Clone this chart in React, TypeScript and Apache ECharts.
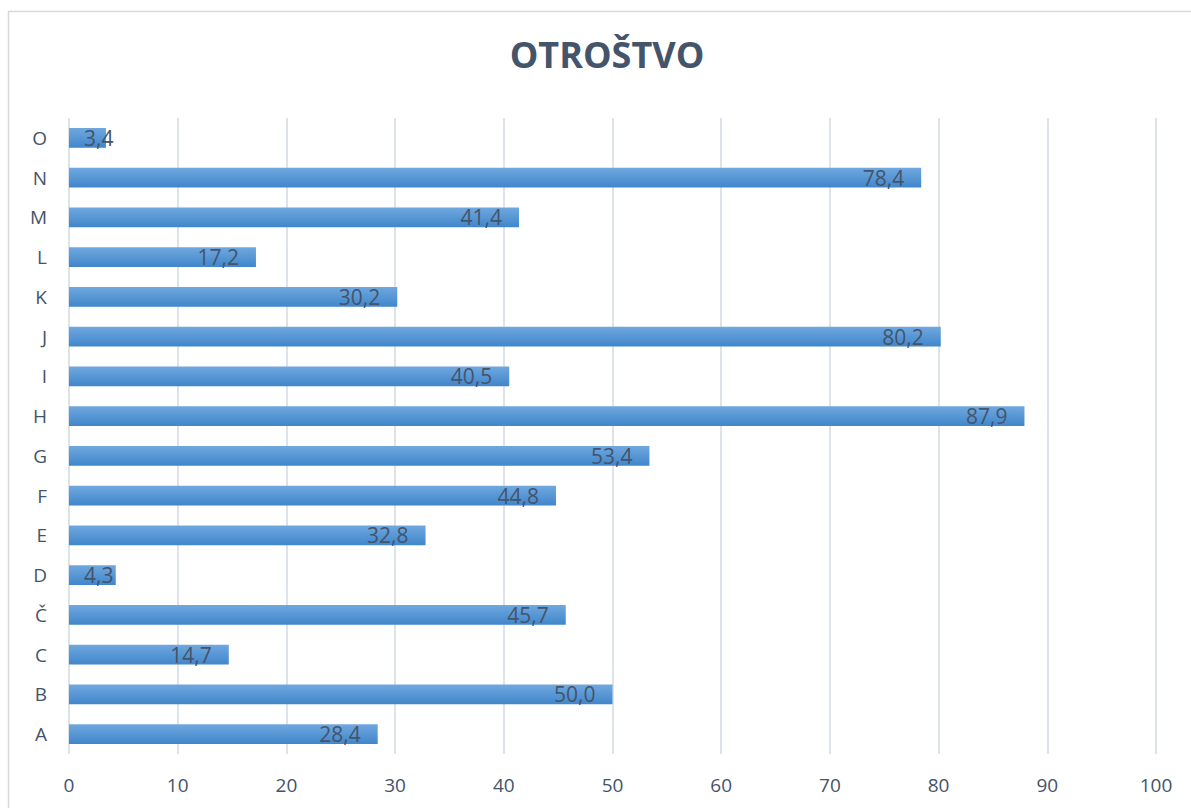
import React, { useEffect, useRef } from "react";
import * as echarts from "echarts";

const categories = ["A", "B", "C", "Č", "D", "E", "F", "G", "H", "I", "J", "K", "L", "M", "N", "O"];
const values = [28.4, 50.0, 14.7, 45.7, 4.3, 32.8, 44.8, 53.4, 87.9, 40.5, 80.2, 30.2, 17.2, 41.4, 78.4, 3.4];
const xTicks = [0, 10, 20, 30, 40, 50, 60, 70, 80, 90, 100];
const titleText = "OTROŠTVO";

const FONT = "'Open Sans', 'Noto Sans', sans-serif";
const TEXT = "#44546A";

export default function App() {
  const ref = useRef<HTMLDivElement>(null);
  useEffect(() => {
    if (!ref.current) return;
    const chart = echarts.init(ref.current, null, { renderer: "svg" });
    const data = values.map((v) => ({
      value: v,
      label:
        v < 6
          ? { position: "insideLeft", distance: 15 }
          : { position: "insideRight", distance: 17 },
    }));
    chart.setOption({
      animation: false,
      backgroundColor: "#ffffff",
      title: {
        text: titleText,
        left: 602,
        top: 31,
        textAlign: "center",
        textStyle: { fontFamily: FONT, fontSize: 36, fontWeight: "bold", color: TEXT },
      },
      graphic: [
        {
          type: "rect",
          shape: { x: 8.5, y: 11.5, width: 1250, height: 900 },
          style: { fill: "none", stroke: "#D9D9D9", lineWidth: 1.5 },
          silent: true,
          z: -10,
        },
      ],
      grid: { left: 69, right: 35, top: 118, bottom: 54, containLabel: false },
      xAxis: {
        type: "value",
        min: xTicks[0],
        max: xTicks[xTicks.length - 1],
        interval: 10,
        axisLine: { show: false },
        axisTick: { show: false },
        splitLine: { show: true, lineStyle: { color: "#DEE3EA", width: 2 } },
        axisLabel: {
          margin: 21,
          fontFamily: FONT,
          fontSize: 19,
          color: TEXT,
        },
      },
      yAxis: {
        type: "category",
        data: categories,
        axisLine: { show: false },
        axisTick: { show: false },
        axisLabel: {
          margin: 22,
          fontFamily: FONT,
          fontSize: 19,
          color: TEXT,
        },
      },
      series: [
        {
          type: "bar",
          data,
          barCategoryGap: "50%",
          itemStyle: {
            color: new echarts.graphic.LinearGradient(0, 0, 0, 1, [
              { offset: 0, color: "#70A8DF" },
              { offset: 1, color: "#4086CB" },
            ]),
          },
          label: {
            show: true,
            fontFamily: FONT,
            fontSize: 21,
            color: TEXT,
            formatter: (p: any) => p.value.toFixed(1).replace(".", ","),
          },
        },
      ],
    });
    return () => chart.dispose();
  }, []);
  return (
    <div
      ref={ref}
      style={{ position: "absolute", left: 0, top: 0, width: 1191, height: 808 }}
    />
  );
}
